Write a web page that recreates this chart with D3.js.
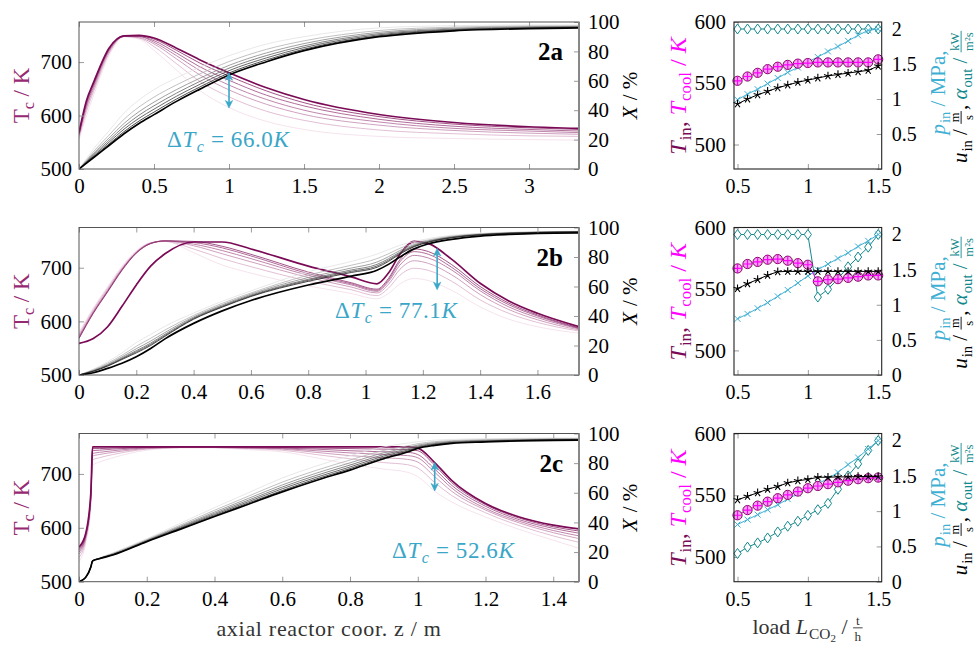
<!DOCTYPE html>
<html>
<head>
<meta charset="utf-8">
<script src="https://cdn.jsdelivr.net/npm/d3@7"></script>
<style>
  body { margin: 0; background: #fff; }
  svg { display: block; }
  svg text { font-family: "Liberation Serif", "DejaVu Serif", serif; white-space: pre; }
</style>
</head>
<body>
<svg id="chart" width="976" height="645"></svg>
<script>
// ---- axial profiles (left column), curves ordered lightest -> darkest ----
const zA = [0, 0.05, 0.1, 0.2, 0.3, 0.4, 0.5, 0.65, 0.8, 1.0, 1.25, 1.5, 2.0, 2.5, 3.0, 3.333];
const tcA = [
  [555, 600, 640, 712, 747, 743, 722, 685, 648, 615, 589, 574, 561, 557, 555, 554],
  [559, 608, 647, 716, 748, 745, 729, 697, 665, 635, 608, 591, 573, 566, 562, 561],
  [562, 614, 652, 719, 748, 746, 734, 706, 677, 648, 621, 602, 582, 572, 567, 565],
  [564, 618, 656, 721, 748, 748, 737, 712, 685, 657, 630, 610, 588, 576, 571, 568],
  [565, 622, 659, 723, 749, 748, 740, 717, 692, 666, 638, 618, 593, 580, 574, 571],
  [567, 625, 662, 725, 749, 749, 743, 722, 699, 674, 646, 624, 598, 584, 577, 574],
  [568, 628, 664, 726, 749, 750, 745, 726, 705, 680, 652, 630, 602, 587, 579, 576]
];
const xA = [
  [0, 7, 14, 26, 38, 47, 54, 62, 69, 77, 85, 90, 96, 97.5, 98, 98],
  [0, 6.1, 12.2, 23, 33.8, 42.2, 48.9, 57.2, 64.5, 73.1, 81.4, 87.2, 94.2, 96.5, 97.3, 97.4],
  [0, 5.5, 11, 21, 31, 39, 45.5, 54, 61.5, 70.5, 79, 85.3, 93, 95.8, 96.8, 97],
  [0, 5, 10.1, 19.5, 28.9, 36.6, 43, 51.6, 59.3, 68.6, 77.2, 83.8, 92.1, 95.2, 96.4, 96.7],
  [0, 4.7, 9.3, 18.2, 27.1, 34.5, 40.7, 49.5, 57.3, 66.9, 75.6, 82.6, 91.3, 94.8, 96, 96.4],
  [0, 4.3, 8.6, 17, 25.4, 32.6, 38.7, 47.6, 55.5, 65.3, 74.2, 81.5, 90.6, 94.4, 95.8, 96.2],
  [0, 4, 8, 16, 24, 31, 37, 46, 54, 64, 73, 80.5, 90, 94, 95.5, 96]
];

const zB = [0, 0.05, 0.1, 0.15, 0.2, 0.25, 0.3, 0.4, 0.5, 0.6, 0.8, 0.95, 1.04, 1.08, 1.12, 1.17, 1.22, 1.3, 1.4, 1.5, 1.6, 1.745];
const tcB = [
  [580, 625, 665, 703, 732, 747, 749, 728, 705, 690, 666, 652, 642, 652, 670, 680, 676, 658, 627, 604, 590, 578],
  [576, 622, 662, 700, 730, 746, 749, 735, 717, 702, 675, 659, 648, 662, 686, 699, 695, 675, 640, 615, 598, 582],
  [573, 619, 659, 698, 729, 746, 750, 741, 726, 711, 682, 664, 653, 669, 697, 713, 708, 687, 650, 622, 603, 584],
  [571, 617, 657, 697, 728, 746, 750, 744, 732, 717, 686, 668, 656, 674, 705, 723, 718, 696, 657, 627, 607, 586],
  [569, 616, 656, 696, 728, 745, 750, 747, 737, 722, 689, 670, 658, 677, 711, 730, 725, 701, 661, 631, 610, 587],
  [568, 615, 655, 695, 727, 745, 750, 749, 740, 725, 692, 672, 660, 680, 715, 735, 730, 706, 665, 634, 612, 588],
  [559, 568, 590, 628, 668, 703, 726, 748, 748, 735, 703, 683, 670, 690, 725, 749, 745, 716, 671, 638, 615, 590]
];
const xB = [
  [0, 4, 9, 15, 22, 27.5, 33, 42, 50, 57, 70, 77, 82, 85, 88, 90.5, 92.5, 94.7, 96, 96.8, 97.2, 97.5],
  [0, 3.5, 8, 13.4, 19.5, 24.9, 30.5, 40.4, 48.6, 55.6, 67.7, 74.4, 78.9, 82.2, 85.9, 89.3, 91.6, 94.1, 95.7, 96.5, 97, 97.3],
  [0, 3.1, 7.2, 12.3, 17.8, 23, 28.8, 39.4, 47.6, 54.8, 66.1, 72.5, 76.6, 80.2, 84.4, 88.4, 91, 93.7, 95.4, 96.3, 96.8, 97.2],
  [0, 2.8, 6.7, 11.5, 16.5, 21.6, 27.6, 38.7, 46.9, 54.1, 64.9, 71.2, 75, 78.8, 83.3, 87.8, 90.6, 93.4, 95.2, 96.2, 96.7, 97.1],
  [0, 2.65, 6.3, 11, 15.7, 20.75, 26.8, 38.2, 46.4, 53.6, 64.2, 70.3, 73.9, 77.8, 82.6, 87.35, 90.25, 93.2, 95.1, 96.1, 96.65, 97.05],
  [0, 2.5, 6, 10.5, 15, 20, 26.2, 37.8, 46, 53.2, 63.5, 69.5, 73, 77, 82, 87, 90, 93, 95, 96, 96.6, 97],
  [0, 1.5, 4.5, 8, 12.4, 18, 24.5, 35, 43.5, 50.5, 61, 67, 71, 75, 80, 85.5, 89, 92, 94.2, 95.3, 96, 96.3]
];

const zC = [0, 0.02, 0.035, 0.04, 0.06, 0.1, 0.2, 0.3, 0.4, 0.5, 0.6, 0.7, 0.8, 0.9, 0.97, 1.0, 1.05, 1.1, 1.2, 1.3, 1.4, 1.476];
const tcC = [
  [537, 572, 640, 716, 722, 730, 744, 748, 748, 745, 741, 730, 718, 709, 703, 695, 668, 648, 620, 597, 577, 562],
  [545, 577, 648, 726, 730, 736, 746, 749, 749, 747, 744, 736, 728, 721, 717, 711, 684, 660, 628, 604, 585, 573],
  [551, 581, 653, 733, 736, 740, 747, 749, 749, 748, 746, 740, 734, 730, 727, 722, 695, 668, 633, 609, 591, 580],
  [555, 584, 656, 738, 740, 743, 748, 749, 749, 748, 747, 743, 739, 736, 734, 730, 703, 674, 636, 612, 595, 585],
  [558, 586, 660, 743, 744, 746, 749, 750, 750, 749, 748, 746, 743, 741, 740, 736, 709, 679, 640, 615, 599, 590],
  [561, 588, 663, 747, 747, 748, 749, 750, 750, 750, 749, 748, 747, 746, 745, 743, 716, 684, 643, 618, 602, 594],
  [564, 590, 665, 750, 750, 750, 750, 750, 750, 750, 750, 750, 750, 750, 750, 748, 721, 688, 645, 620, 605, 598]
];
const xC = [
  [0, 3, 10, 14, 16, 19.5, 29, 39.5, 50, 60, 70, 78, 85, 91, 93.5, 94.5, 95.5, 96, 96.5, 96.8, 97, 97],
  [0, 3, 10, 14, 15.9, 19.1, 28.4, 38.3, 48.2, 57.7, 67.2, 75.1, 82.1, 88.6, 91.7, 93.1, 94.5, 95.2, 95.9, 96.3, 96.5, 96.6],
  [0, 3, 10, 14, 15.8, 18.8, 28, 37.5, 47, 56.2, 65.3, 73.2, 80.2, 87, 90.5, 92.2, 93.8, 94.7, 95.4, 95.9, 96.2, 96.3],
  [0, 3, 10, 14, 15.7, 18.5, 27.7, 36.9, 46.1, 55, 63.9, 71.7, 78.7, 85.8, 89.6, 91.5, 93.2, 94.3, 95.1, 95.6, 96, 96],
  [0, 3, 10, 14, 15.6, 18.3, 27.4, 36.4, 45.3, 54, 62.7, 70.4, 77.4, 84.8, 88.8, 90.9, 92.8, 93.9, 94.8, 95.4, 95.8, 95.8],
  [0, 3, 10, 14, 15.6, 18.2, 27.2, 35.9, 44.6, 53.1, 61.5, 69.3, 76.3, 83.8, 88.1, 90.4, 92.4, 93.6, 94.5, 95.2, 95.6, 95.7],
  [0, 3, 10, 14, 15.5, 18, 27, 35.5, 44, 52.3, 60.6, 68.3, 75.3, 83, 87.5, 89.9, 92, 93.3, 94.3, 95, 95.4, 95.5]
];

// ---- load variation (right column) ----
const loads = [0.5, 0.571, 0.643, 0.714, 0.786, 0.857, 0.929, 1.0, 1.071, 1.143, 1.214, 1.286, 1.357, 1.429, 1.5];
const alphaA = [2, 2, 2, 2, 2, 2, 2, 2, 2, 2, 2, 2, 2, 2, 2];
const pinA   = [0.99, 1.07, 1.14, 1.22, 1.30, 1.38, 1.45, 1.53, 1.60, 1.68, 1.75, 1.83, 1.91, 1.98, 2.0];
const tinA   = [552, 555.5, 558.5, 561.5, 563.5, 565, 566, 566.5, 567, 567, 567, 567, 567, 567, 569.5];
const uinA   = [0.93, 1.00, 1.06, 1.11, 1.16, 1.20, 1.24, 1.27, 1.30, 1.33, 1.35, 1.37, 1.39, 1.41, 1.47];

const alphaB = [2, 2, 2, 2, 2, 2, 2, 2, 1.11, 1.22, 1.37, 1.54, 1.68, 1.82, 2.0];
const pinB   = [0.80, 0.87, 0.95, 1.03, 1.12, 1.21, 1.31, 1.41, 1.50, 1.58, 1.66, 1.74, 1.83, 1.91, 2.0];
const tinB   = [566.7, 570.3, 572, 573.8, 574.3, 573, 571, 569.7, 556.2, 557.6, 558, 559, 560, 561, 561];
const uinB   = [1.23, 1.30, 1.36, 1.42, 1.47, 1.475, 1.475, 1.475, 1.475, 1.475, 1.475, 1.475, 1.475, 1.475, 1.475];

const alphaC = [0.40, 0.49, 0.55, 0.62, 0.705, 0.786, 0.857, 0.94, 1.02, 1.11, 1.31, 1.5, 1.67, 1.86, 2.0];
const pinC   = [0.81, 0.88, 0.95, 1.02, 1.09, 1.17, 1.25, 1.32, 1.39, 1.46, 1.55, 1.66, 1.76, 1.88, 2.0];
const tinC   = [533.8, 538, 541.6, 544.8, 547.6, 550.3, 553, 555.7, 557.5, 559, 560.5, 561.8, 563, 563.8, 564.3];
const uinC   = [1.16, 1.21, 1.26, 1.31, 1.35, 1.40, 1.43, 1.45, 1.48, 1.48, 1.485, 1.485, 1.49, 1.49, 1.49];

// spread of the coolant temperature marked by the arrows
const arrowsT = [[614, 680], [659, 736], [668.4, 721]];
const arrowsZ = [1.0, 1.25, 1.05];
const deltaLabels = ['66.0', '77.1', '52.6'];
const caseNames = ['2a', '2b', '2c'];

// ---- colours / layout ----
const FONT = '"Liberation Serif", "DejaVu Serif", serif';
const PURPLE = '#962a72', DARKP = '#7a0a55', MAGENTA = '#ff00ff';
const LBLUE = '#3fb0d4', TEAL = '#13898c', ARROW = '#3aa6c8';
const LX = [79, 579], RX = [734, 881.7];
const ROWS = [[22, 169], [227.5, 375], [433.5, 581.7]];

const svg = d3.select('#chart');
const defs = svg.append('defs');

function styleAxis(sel, size) {
  const fs = size || 21;
  sel.attr('font-family', FONT).attr('font-size', fs);
  sel.select('.domain').remove();
  sel.selectAll('line').attr('stroke', '#9a9a9a');
  sel.selectAll('text').attr('fill', '#000').style('font-family', FONT).style('font-size', fs + 'px');
}

// lays out math-like text pieces horizontally, returns total width
function richText(parent, parts, size, spacing) {
  const g = parent.append('g');
  let x = 0;
  const put = (txt, px, py, fs, color, italic) => g.append('text')
    .attr('x', px).attr('y', py)
    .style('font-family', FONT).style('white-space', 'pre')
    .style('letter-spacing', (spacing || 0) + 'px')
    .style('font-size', fs + 'px').style('fill', color)
    .style('font-style', italic ? 'italic' : 'normal').text(txt);
  parts.forEach(p => {
    const c = p.c || '#000';
    if (p.frac) {
      const fs = size * 0.6;
      const a = put(p.frac[0], 0, -size * 0.4, fs, c);
      const b = put(p.frac[1], 0, size * 0.3, fs, c);
      const w = Math.max(a.node().getComputedTextLength(), b.node().getComputedTextLength()) + 3;
      a.attr('x', x + w / 2).attr('text-anchor', 'middle');
      b.attr('x', x + w / 2).attr('text-anchor', 'middle');
      g.append('line').attr('x1', x).attr('x2', x + w)
        .attr('y1', -size * 0.28).attr('y2', -size * 0.28)
        .attr('stroke', c).attr('stroke-width', 0.9);
      x += w + 1;
    } else {
      const t = put(p.t, x, 0, size, c, p.i);
      x += t.node().getComputedTextLength() + (p.i ? 1 : 0);
      if (p.sub) {
        const s = put(p.sub, x, size * 0.22, size * 0.7, c, p.si);
        x += s.node().getComputedTextLength();
        if (p.sub2) {
          const s2 = put(p.sub2, x, size * 0.36, size * 0.5, c);
          x += s2.node().getComputedTextLength();
        }
      }
    }
  });
  return { g, w: x };
}

function rotatedLabel(cx, cy, parts, size) {
  const holder = svg.append('g').attr('transform', `translate(${cx},${cy}) rotate(-90)`);
  const r = richText(holder, parts, size);
  r.g.attr('transform', `translate(${-r.w / 2},0)`);
}

function drawLeft(row) {
  const [y0, y1] = ROWS[row];
  const z = [zA, zB, zC][row];
  const tcs = [tcA, tcB, tcC][row];
  const xs = [xA, xB, xC][row];
  const zmax = [3.333, 1.745, 1.476][row];
  const zticks = [[0, 0.5, 1, 1.5, 2, 2.5, 3],
                  [0, 0.2, 0.4, 0.6, 0.8, 1, 1.2, 1.4, 1.6],
                  [0, 0.2, 0.4, 0.6, 0.8, 1, 1.2, 1.4]][row];

  const xScale = d3.scaleLinear().domain([0, zmax]).range(LX);
  const yT = d3.scaleLinear().domain([500, 775]).range([y1, y0]);
  const yX = d3.scaleLinear().domain([0, 100]).range([y1, y0]);
  const g = svg.append('g');

  const clipId = 'clipL' + row;
  defs.append('clipPath').attr('id', clipId).append('rect')
    .attr('x', LX[0]).attr('y', y0).attr('width', LX[1] - LX[0]).attr('height', y1 - y0);
  const plot = g.append('g').attr('clip-path', `url(#${clipId})`);

  const purple = d3.interpolateRgb('#f3dce9', '#7a0a55');
  const grey = d3.interpolateRgb('#e2e2e2', '#000000');
  const n = tcs.length;

  function family(curves, yScale, colorFn) {
    curves.forEach((c, i) => {
      const t = i / (n - 1);
      const line = d3.line().x((d, k) => xScale(z[k])).y(d => yScale(d)).curve(d3.curveMonotoneX);
      plot.append('path').datum(c).attr('d', line)
        .attr('fill', 'none').attr('stroke', colorFn(Math.pow(t, 0.85)))
        .attr('stroke-width', i === n - 1 ? 1.7 : 0.8);
    });
  }
  family(tcs, yT, purple);
  family(xs, yX, grey);

  // axes
  g.append('g').attr('transform', `translate(0,${y1})`)
    .call(d3.axisBottom(xScale).tickValues(zticks).tickSize(-5).tickPadding(9).tickFormat(d => d))
    .call(styleAxis);
  g.append('g').attr('transform', `translate(0,${y0})`)
    .call(d3.axisTop(xScale).tickValues(zticks).tickSize(-5).tickFormat(''))
    .call(styleAxis);
  g.append('g').attr('transform', `translate(${LX[0]},0)`)
    .call(d3.axisLeft(yT).tickValues([500, 600, 700]).tickSize(-5).tickPadding(7))
    .call(styleAxis);
  g.append('g').attr('transform', `translate(${LX[1]},0)`)
    .call(d3.axisRight(yX).tickValues([0, 20, 40, 60, 80, 100]).tickSize(-5).tickPadding(9))
    .call(styleAxis);
  g.append('rect').attr('x', LX[0]).attr('y', y0).attr('width', LX[1] - LX[0]).attr('height', y1 - y0)
    .attr('fill', 'none').attr('stroke', '#555').attr('stroke-width', 1);
  g.append('line').attr('x1', LX[1]).attr('x2', LX[1]).attr('y1', y0).attr('y2', y1)
    .attr('stroke', '#888').attr('stroke-width', 2);

  // spread arrow and label
  const az = xScale(arrowsZ[row]);
  const ya = yT(arrowsT[row][0]), yb = yT(arrowsT[row][1]);
  g.append('line').attr('x1', az).attr('x2', az).attr('y1', ya - 3).attr('y2', yb + 3)
    .attr('stroke', ARROW).attr('stroke-width', 1.6);
  g.append('path').attr('d', `M${az},${yb}l-3.6,7.5l3.6,-2.2l3.6,2.2Z`).attr('fill', ARROW).attr('stroke', ARROW).attr('stroke-width', 0.6);
  g.append('path').attr('d', `M${az},${ya}l-3.6,-7.5l3.6,2.2l3.6,-2.2Z`).attr('fill', ARROW).attr('stroke', ARROW).attr('stroke-width', 0.6);

  const textPos = [[167, 147], [335, 318], [392, 558]][row];
  richText(g.append('g').attr('transform', `translate(${textPos[0]},${textPos[1]})`),
    [{ t: 'Δ', c: ARROW }, { t: 'T', i: true, sub: 'c', si: true, c: ARROW },
     { t: ' = ' + deltaLabels[row], c: ARROW }, { t: 'K', i: true, c: ARROW }], 23, 0.6);

  g.append('text').attr('x', 563).attr('y', y0 + 38).attr('text-anchor', 'end')
    .style('font-family', FONT).style('font-size', '25px').style('font-weight', 'bold').text(caseNames[row]);

  const cy = (y0 + y1) / 2;
  rotatedLabel(29, cy, [{ t: 'T', sub: 'c', c: PURPLE }, { t: ' / K', c: PURPLE }], 23);
  rotatedLabel(637, cy, [{ t: 'X', i: true }, { t: ' / %' }], 21);
}

function marker(sel, type, color) {
  if (type === 'diamond') {
    sel.append('path').attr('d', 'M0,-5L3.6,0L0,5L-3.6,0Z').attr('fill', '#fff').attr('stroke', color).attr('stroke-width', 1);
  } else if (type === 'x') {
    sel.append('path').attr('d', 'M-3,-3L3,3M-3,3L3,-3').attr('stroke', color).attr('stroke-width', 1);
  } else if (type === 'circplus') {
    sel.append('circle').attr('r', 4.6).attr('fill', '#f2a6ee').attr('stroke', DARKP).attr('stroke-width', 1);
    sel.append('path').attr('d', 'M-4.6,0L4.6,0M0,-4.6L0,4.6').attr('stroke', MAGENTA).attr('stroke-width', 1.2);
  } else if (type === 'star') {
    let d = '';
    for (let k = 0; k < 5; k++) {
      const a = -Math.PI / 2 + k * 2 * Math.PI / 5;
      d += `M0,0L${(4.2 * Math.cos(a)).toFixed(2)},${(4.2 * Math.sin(a)).toFixed(2)}`;
    }
    sel.append('path').attr('d', d).attr('stroke', color).attr('stroke-width', 1.1);
  }
}

function drawRight(row) {
  const [y0, y1] = ROWS[row];
  const alpha = [alphaA, alphaB, alphaC][row];
  const pin = [pinA, pinB, pinC][row];
  const tin = [tinA, tinB, tinC][row];
  const uin = [uinA, uinB, uinC][row];

  const xScale = d3.scaleLinear().domain([0.475, 1.525]).range(RX);
  const yL = d3.scaleLinear().domain([480, 600]).range([y1, y0]);
  const yR = d3.scaleLinear().domain([0, 2.1]).range([y1, y0]);
  const g = svg.append('g');

  g.append('g').attr('transform', `translate(0,${y1})`)
    .call(d3.axisBottom(xScale).tickValues([0.5, 1, 1.5]).tickSize(-5).tickPadding(10).tickFormat(d => d))
    .call(styleAxis, 20);
  g.append('g').attr('transform', `translate(0,${y0})`)
    .call(d3.axisTop(xScale).tickValues([0.5, 1, 1.5]).tickSize(-5).tickFormat(''))
    .call(styleAxis, 20);
  g.append('g').attr('transform', `translate(${RX[0]},0)`)
    .call(d3.axisLeft(yL).tickValues([500, 550, 600]).tickSize(-5).tickPadding(8))
    .call(styleAxis, 21);
  g.append('g').attr('transform', `translate(${RX[1]},0)`)
    .call(d3.axisRight(yR).tickValues([0, 0.5, 1, 1.5, 2]).tickSize(-5).tickPadding(10).tickFormat(d => d))
    .call(styleAxis, 20);

  const series = [
    { v: alpha, y: yR, c: TEAL, m: 'diamond' },
    { v: pin, y: yR, c: LBLUE, m: 'x' },
    { v: tin, y: yL, c: MAGENTA, m: 'circplus' },
    { v: uin, y: yR, c: '#000', m: 'star' }
  ];
  series.forEach(s => {
    const line = d3.line().x((d, k) => xScale(loads[k])).y(d => s.y(d));
    g.append('path').datum(s.v).attr('d', line).attr('fill', 'none')
      .attr('stroke', s.c).attr('stroke-width', 1);
    g.selectAll(null).data(s.v).enter().append('g')
      .attr('transform', (d, k) => `translate(${xScale(loads[k])},${s.y(d)})`)
      .each(function () { marker(d3.select(this), s.m, s.c); });
  });

  g.append('rect').attr('x', RX[0]).attr('y', y0).attr('width', RX[1] - RX[0]).attr('height', y1 - y0)
    .attr('fill', 'none').attr('stroke', '#222').attr('stroke-width', 1.1);

  const cy = (y0 + y1) / 2;
  rotatedLabel(686, cy, [{ t: 'T', i: true, sub: 'in', c: DARKP }, { t: ', ', c: DARKP },
    { t: 'T', i: true, sub: 'cool', c: MAGENTA }, { t: ' / ', c: MAGENTA }, { t: 'K', i: true, c: MAGENTA }], 24);
  rotatedLabel(945, cy - 3, [{ t: 'p', i: true, sub: 'in', c: LBLUE }, { t: ' / MPa,', c: LBLUE }], 21);
  rotatedLabel(967, cy + 1, [{ t: 'u', i: true, sub: 'in' }, { t: ' / ' }, { frac: ['m', 's'] }, { t: ', ' },
    { t: 'α', i: true, sub: 'out', c: TEAL }, { t: ' / ', c: TEAL }, { frac: ['kW', 'm²s'], c: TEAL }], 21);
}

[0, 1, 2].forEach(r => { drawLeft(r); drawRight(r); });

// bottom axis titles
svg.append('text').attr('x', 329).attr('y', 636).attr('text-anchor', 'middle')
  .style('font-family', FONT).style('font-size', '22px').style('letter-spacing', '0.7px').style('fill', '#333')
  .text('axial reactor coor. z / m');
const loadLab = svg.append('g').attr('transform', 'translate(808,634)');
const ll = richText(loadLab, [{ t: 'load ', c: '#333' }, { t: 'L', i: true, sub: 'CO', sub2: '2', c: '#333' },
  { t: ' / ', c: '#333' }, { frac: ['t', 'h'], c: '#333' }], 22);
ll.g.attr('transform', `translate(${-ll.w / 2},0)`);
</script>
</body>
</html>
